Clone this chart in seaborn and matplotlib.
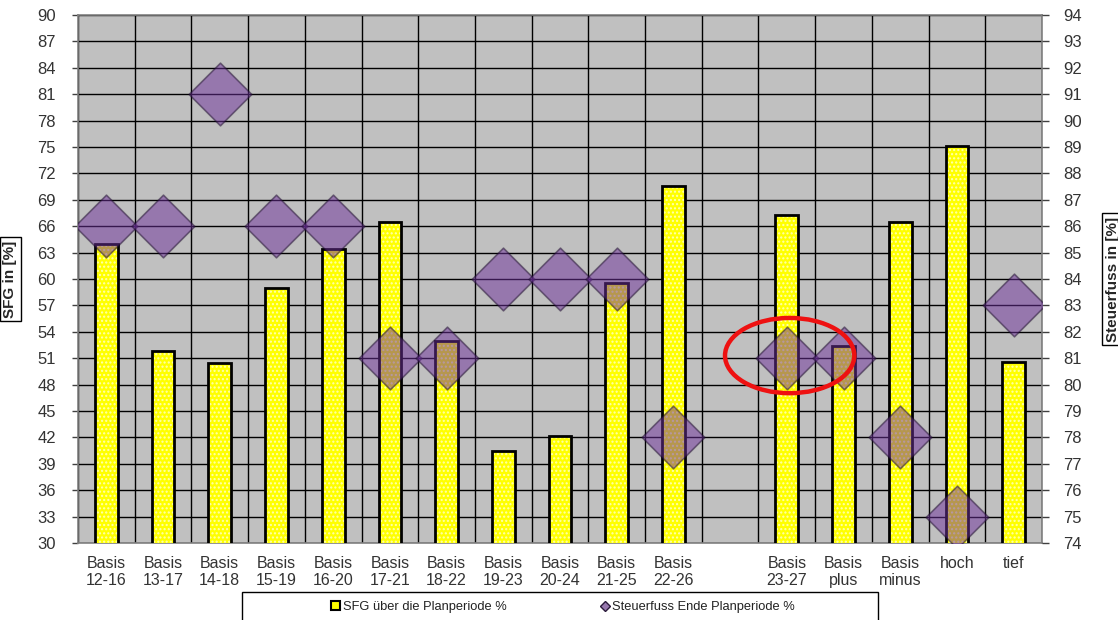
"""
SFG vs. Steuerfuss je Planungsvariante.
"""
import numpy as np
import matplotlib
matplotlib.use("Agg")
import matplotlib.pyplot as plt
from matplotlib.patches import Ellipse, Patch, Rectangle
from matplotlib.lines import Line2D
import seaborn as sns

# Daten
kategorien = ["Basis\n12-16", "Basis\n13-17", "Basis\n14-18", "Basis\n15-19", "Basis\n16-20",
              "Basis\n17-21", "Basis\n18-22", "Basis\n19-23", "Basis\n20-24", "Basis\n21-25",
              "Basis\n22-26", " ", "Basis\n23-27", "Basis\nplus", "Basis\nminus", "hoch", "tief"]
sfg = [64.0, 51.8, 50.4, 59.0, 63.4, 66.5, 52.9, 40.5, 42.2, 59.5, 70.6, np.nan,
       67.3, 52.4, 66.5, 75.1, 50.6]
steuerfuss = [86, 86, 91, 86, 86, 81, 81, 84, 84, 84, 78, np.nan, 81, 81, 78, 75, 83]

sfg_ticks = list(range(30, 91, 3))
sf_ticks = list(range(74, 95, 1))

GELB = "#FFFF00"
LILA = "#6E309C"
GRAU = "#C0C0C0"
TXT = "#333333"

sns.set_style("white")
plt.rcParams["font.family"] = ["Liberation Sans", "DejaVu Sans"]

fig = plt.figure(figsize=(11.18, 6.2), dpi=100)
ax = fig.add_axes([78 / 1118, 77 / 620, 964 / 1118, 528 / 620])
ax.set_facecolor(GRAU)

# Balken (gefüllt mit feinem Punktmuster, danach Umriss)
sns.barplot(x=kategorien, y=sfg, order=kategorien, ax=ax, width=0.4, color=GELB,
            saturation=1, errorbar=None, edgecolor="#FFFFB0", linewidth=0, hatch="....",
            zorder=3)
sns.barplot(x=kategorien, y=sfg, order=kategorien, ax=ax, width=0.4, fill=False,
            errorbar=None, edgecolor="black", linewidth=2, zorder=4)

ax.set_xlim(-0.5, len(kategorien) - 0.5)
ax.set_ylim(30, 90)
ax.set_yticks(sfg_ticks)
ax.set_xticks(np.arange(len(kategorien)))
ax.set_xticklabels(kategorien)
ax.set_xticks(np.arange(len(kategorien) + 1) - 0.5, minor=True)
ax.tick_params(axis="x", which="major", length=0, pad=9, labelsize=11.5, colors=TXT)
ax.tick_params(axis="x", which="minor", length=6, width=1, color="#404040", direction="out")
ax.tick_params(axis="y", length=4, width=1, color="#404040", direction="out", pad=12,
               labelsize=12, labelcolor=TXT, left=True)
ax.set_axisbelow(True)
ax.grid(axis="y", which="major", color="black", linewidth=1)
ax.grid(axis="x", which="minor", color="black", linewidth=1)
ax.grid(axis="x", which="major", visible=False)
for s in ax.spines.values():
    s.set_color("#808080")
    s.set_linewidth(1.2)
ax.set_xlabel("")
ax.set_ylabel("SFG in [%]", fontsize=11, fontweight="bold",
              bbox=dict(facecolor="white", edgecolor="black", pad=2.5, linewidth=1))
ax.yaxis.set_label_coords(-0.063, 0.5)

# Steuerfuss (rechte Achse)
ax2 = ax.twinx()
sns.scatterplot(x=np.arange(len(kategorien)), y=steuerfuss, ax=ax2, marker="D", s=1020,
                color=LILA, alpha=0.5, edgecolor="#1a0a2a", linewidth=1.2, legend=False,
                zorder=5)
ax2.set_ylim(74, 94)
ax2.set_yticks(sf_ticks)
ax2.tick_params(axis="y", length=5, width=1, color="#404040", direction="out", pad=10,
                labelsize=12, labelcolor=TXT, right=True)
for s in ax2.spines.values():
    s.set_visible(False)
ax2.set_ylabel("Steuerfuss in [%]", fontsize=11, fontweight="bold",
               bbox=dict(facecolor="white", edgecolor="black", pad=2.5, linewidth=1))
ax2.yaxis.set_label_coords(1.066, 0.5)

# Markierung Basis 23-27
ax2.add_patch(Ellipse((12.05, 81.1), 2.28, 2.85, fill=False, edgecolor="#EE1111",
                      linewidth=3.2, zorder=6, clip_on=False))

# Legende (Rahmen separat, damit er so breit wie im Original ist)
fig.patches.append(Rectangle((242 / 1118, -0.05), 636 / 1118, 0.05 + 28 / 620,
                             transform=fig.transFigure, facecolor="white",
                             edgecolor="black", linewidth=1))
handles = [Patch(facecolor=GELB, edgecolor="black", linewidth=1.5),
           Line2D([], [], marker="D", linestyle="none", markersize=5,
                  markerfacecolor="#9778AE", markeredgecolor="#2a1a3a")]
labels = ["SFG über die Planperiode %", "Steuerfuss Ende Planperiode %"]
leg = fig.legend(handles, labels, loc="center", ncol=2,
                 bbox_to_anchor=(563 / 1118, 1 - 607 / 620),
                 fontsize=9.3, frameon=False, handlelength=0.7, handleheight=0.7,
                 handletextpad=0.25, columnspacing=7.2, borderaxespad=0)
for t in leg.get_texts():
    t.set_color("#222222")

fig.savefig("out.png", dpi=100)
